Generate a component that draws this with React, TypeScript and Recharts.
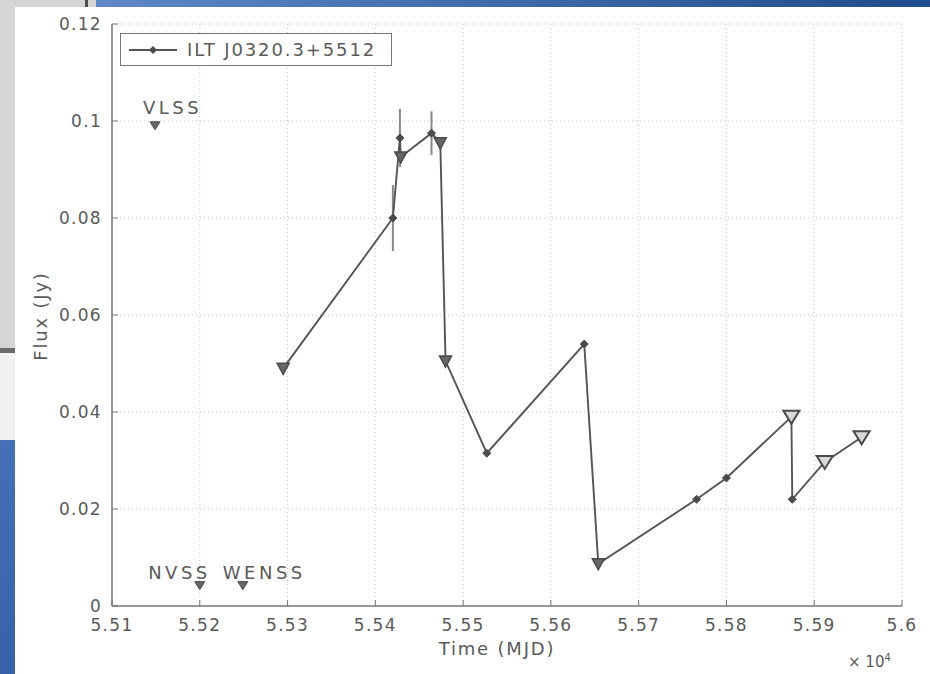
import React from "react";
import {
  CartesianGrid,
  ComposedChart,
  ErrorBar,
  Legend,
  Line,
  Scatter,
  XAxis,
  YAxis,
} from "recharts";

// light curve, x in MJD, flux in Jy
const mjd = [55295, 55420, 55428, 55429, 55464, 55474, 55480, 55527, 55638, 55654, 55766, 55800, 55874, 55875, 55912, 55954];
const flux = [0.049, 0.08, 0.0965, 0.0926, 0.0975, 0.0955, 0.0505, 0.0315, 0.054, 0.0087, 0.022, 0.0264, 0.039, 0.022, 0.0297, 0.0348];
const marker = ["tri", "dot", "dot", "tri", "dot", "tri", "tri", "dot", "dot", "tri", "dot", "dot", "open", "dot", "open", "open"];
const fluxErr = [0, 0.0068, 0.006, 0, 0.0045, 0, 0, 0, 0, 0, 0, 0, 0, 0, 0, 0];

// archival surveys
const surveyNames = ["VLSS", "NVSS", "WENSS"];
const surveyMjd = [55149, 55200, 55249];
const surveyFlux = [0.099, 0.0042, 0.0042];

const xTicks = [55100, 55200, 55300, 55400, 55500, 55600, 55700, 55800, 55900, 56000];
const yTicks = [0, 0.02, 0.04, 0.06, 0.08, 0.1, 0.12];

const legendLabel = "ILT J0320.3+5512";

const curve = mjd.map((x, i) => ({ x, y: flux[i], m: marker[i], err: fluxErr[i] }));
const errPoints = curve.filter((d) => d.err > 0);
const surveys = surveyNames.map((name, i) => ({ name, x: surveyMjd[i], y: surveyFlux[i] }));

const ink = "#555";
const textCol = "#5a5a5a";
const font = "'DejaVu Sans', Verdana, sans-serif";

const fmtX = (v: number) => (v / 1e4).toFixed(2).replace(/0$/, "");
const fmtY = (v: number) => (v === 0 ? "0" : v.toFixed(2).replace(/0$/, ""));

function CurveDot(props: any) {
  const { cx, cy, payload } = props;
  if (cx == null || cy == null) return <g />;
  if (payload.m === "open") {
    return (
      <path
        d={`M${cx - 8},${cy - 6} L${cx + 8},${cy - 6} L${cx},${cy + 7} Z`}
        fill="#d8d8d8"
        stroke="#4a4a4a"
        strokeWidth={2}
      />
    );
  }
  if (payload.m === "tri") {
    return (
      <path
        d={`M${cx - 6},${cy - 5} L${cx + 6},${cy - 5} L${cx},${cy + 6} Z`}
        fill="#666"
        stroke="#4a4a4a"
        strokeWidth={1.5}
      />
    );
  }
  return (
    <path
      d={`M${cx},${cy - 4} L${cx + 4},${cy} L${cx},${cy + 4} L${cx - 4},${cy} Z`}
      fill="#4a4a4a"
      stroke="#4a4a4a"
      strokeWidth={1}
    />
  );
}

const labelPlace: Record<string, { dx: number; dy: number; anchor: string }> = {
  VLSS: { dx: -12, dy: -12, anchor: "start" },
  NVSS: { dx: 11, dy: -7, anchor: "end" },
  WENSS: { dx: -20, dy: -7, anchor: "start" },
};

function SurveyMark(props: any) {
  const { cx, cy, payload } = props;
  const p = labelPlace[payload.name];
  return (
    <g>
      <path
        d={`M${cx - 5},${cy - 4} L${cx + 5},${cy - 4} L${cx},${cy + 4} Z`}
        fill="#666"
        stroke="#4a4a4a"
        strokeWidth={1}
      />
      <text
        x={cx + p.dx}
        y={cy + p.dy}
        textAnchor={p.anchor as any}
        fontSize={18}
        letterSpacing={3.5}
        fontFamily={font}
        fill={textCol}
      >
        {payload.name}
      </text>
    </g>
  );
}

function LegendBox() {
  return (
    <div
      style={{
        border: "1.5px solid #777",
        background: "#fff",
        width: 270,
        height: 31,
        display: "flex",
        alignItems: "center",
        fontFamily: font,
        fontSize: 18,
        letterSpacing: 1.9,
        color: textCol,
        whiteSpace: "nowrap",
      }}
    >
      <svg width={62} height={20} style={{ flex: "none" }}>
        <line x1={8} y1={10} x2={56} y2={10} stroke={ink} strokeWidth={1.8} />
        <path d="M32,6 L36,10 L32,14 L28,10 Z" fill="#4a4a4a" />
      </svg>
      <span style={{ marginLeft: 4 }}>{legendLabel}</span>
    </div>
  );
}

export default function App() {
  const tickStyle = { fill: textCol, fontSize: 17, fontFamily: font, letterSpacing: 1.3 };
  const labelStyle = { fontFamily: font, fontSize: 18, letterSpacing: 1.8, color: textCol };
  return (
    <div style={{ position: "absolute", left: 0, top: 0, width: 930, height: 674, background: "#fff", overflow: "hidden" }}>
      {/* slide pieces around the pasted figure */}
      <div style={{ position: "absolute", left: 0, top: 0, width: 96, height: 7, background: "#d4d4d4" }} />
      <div style={{ position: "absolute", left: 85, top: 0, width: 3, height: 7, background: "#4a4a4a" }} />
      <div
        style={{
          position: "absolute",
          left: 96,
          top: 0,
          width: 834,
          height: 7,
          background: "linear-gradient(90deg, #5f87c8, #1f4c8c)",
        }}
      />
      <div style={{ position: "absolute", left: 0, top: 0, width: 15, height: 348, background: "#d6d6d6" }} />
      <div style={{ position: "absolute", left: 0, top: 348, width: 15, height: 5, background: "#6b6b6b" }} />
      <div style={{ position: "absolute", left: 0, top: 353, width: 15, height: 87, background: "#f1f1f1" }} />
      <div
        style={{
          position: "absolute",
          left: 0,
          top: 440,
          width: 15,
          height: 234,
          background: "linear-gradient(180deg, #4570b5, #3762a8)",
        }}
      />

      <div style={{ position: "absolute", left: 0, top: 0 }}>
        <ComposedChart width={930} height={674} margin={{ top: 24, right: 28, bottom: 28, left: 52 }}>
          <CartesianGrid stroke="#c4c4c4" strokeDasharray="1 3" />
          <XAxis
            dataKey="x"
            type="number"
            domain={[55100, 56000]}
            ticks={xTicks}
            tickFormatter={fmtX}
            height={40}
            tick={tickStyle}
            tickSize={-6}
            tickMargin={19}
            axisLine={{ stroke: "#777", strokeWidth: 1.5 }}
            tickLine={{ stroke: "#777" }}
            allowDataOverflow
          />
          <XAxis
            xAxisId="top"
            orientation="top"
            type="number"
            domain={[55100, 56000]}
            ticks={xTicks}
            height={0}
            tick={false}
            tickSize={-6}
            axisLine={{ stroke: "#777", strokeWidth: 1.5 }}
            tickLine={{ stroke: "#777" }}
          />
          <YAxis
            type="number"
            domain={[0, 0.12]}
            ticks={yTicks}
            tickFormatter={fmtY}
            width={60}
            tick={tickStyle}
            tickSize={-6}
            tickMargin={16}
            axisLine={{ stroke: "#777", strokeWidth: 1.5 }}
            tickLine={{ stroke: "#777" }}
            allowDataOverflow
          />
          <YAxis
            yAxisId="right"
            orientation="right"
            type="number"
            domain={[0, 0.12]}
            ticks={yTicks}
            width={0}
            tick={false}
            tickSize={-6}
            axisLine={{ stroke: "#777", strokeWidth: 1.5 }}
            tickLine={{ stroke: "#777" }}
          />
          <Legend
            layout="vertical"
            align="center"
            verticalAlign="middle"
            wrapperStyle={{ left: 120, top: 33, width: 274 }}
            content={() => <LegendBox />}
          />
          <Scatter data={errPoints} dataKey="y" shape={() => <g />} legendType="none" isAnimationActive={false}>
            <ErrorBar dataKey="err" direction="y" width={0} stroke="#8a8a8a" strokeWidth={2} />
          </Scatter>
          <Line
            data={curve}
            dataKey="y"
            type="linear"
            stroke={ink}
            strokeWidth={1.9}
            dot={(p: any) => <CurveDot key={p.index} {...p} />}
            activeDot={false}
            isAnimationActive={false}
          />
          <Scatter
            data={surveys}
            dataKey="y"
            shape={(p: any) => <SurveyMark {...p} />}
            legendType="none"
            isAnimationActive={false}
          />
        </ComposedChart>
      </div>

      <div style={{ ...labelStyle, position: "absolute", left: 432, top: 638, width: 130, textAlign: "center", whiteSpace: "nowrap" }}>
        Time (MJD)
      </div>
      <div
        style={{
          ...labelStyle,
          position: "absolute",
          left: 40,
          top: 316,
          transform: "translate(-50%, -50%) rotate(-90deg)",
          whiteSpace: "nowrap",
        }}
      >
        Flux (Jy)
      </div>
      <div style={{ position: "absolute", left: 848, top: 652, fontFamily: font, fontSize: 15, color: textCol }}>
        × 10<sup style={{ fontSize: 10 }}>4</sup>
      </div>
    </div>
  );
}
